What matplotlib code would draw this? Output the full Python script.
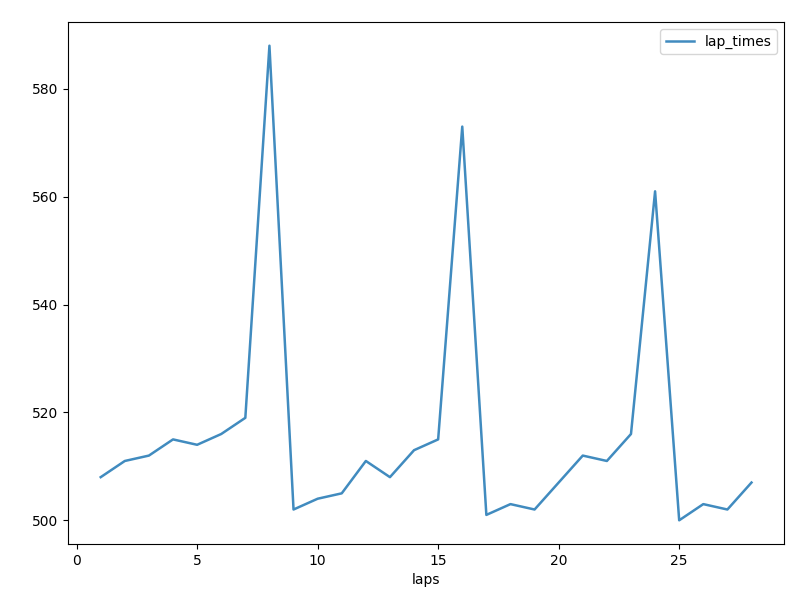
import matplotlib
matplotlib.use("Agg")
import matplotlib.pyplot as plt

laps = list(range(1, 29))
lap_times = [508, 511, 512, 515, 514, 516, 519, 588, 502, 504,
             505, 511, 508, 513, 515, 573, 501, 503, 502, 507,
             512, 511, 516, 561, 500, 503, 502, 507]

fig = plt.figure(figsize=(8.02, 6.02), dpi=100)
ax = fig.add_axes([0.085, 0.0963, 0.8926, 0.8672])
ax.plot(laps, lap_times, color="#1f77b4", label="lap_times", lw=1.8, alpha=0.85)
ax.set_xlabel("laps")
ax.legend(loc="upper right")

fig.savefig("out.png", dpi=100)
